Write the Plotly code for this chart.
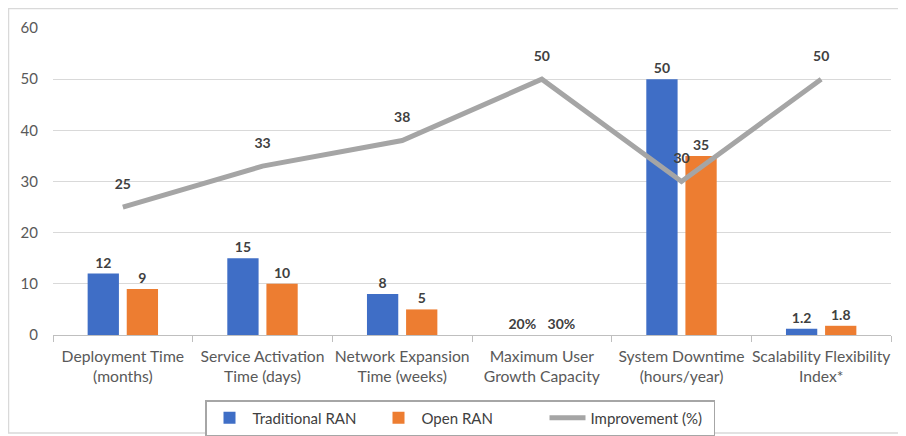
import plotly.graph_objects as go

categories = ["Deployment Time<br>(months)", "Service Activation<br>Time (days)",
              "Network Expansion<br>Time (weeks)", "Maximum User<br>Growth Capacity",
              "System Downtime<br>(hours/year)", "Scalability Flexibility<br>Index*"]
traditional = [12, 15, 8, 0, 50, 1.2]
traditional_text = ["12", "15", "8", "20%", "50", "1.2"]
open_ran = [9, 10, 5, 0, 35, 1.8]
open_ran_text = ["9", "10", "5", "30%", "35", "1.8"]
improvement = [25, 33, 38, 50, 30, 50]

FONT = "Lato"
LABEL = dict(family=FONT, size=14, color="#404040", weight="bold")

fig = go.Figure()
fig.add_trace(go.Bar(
    x=categories, y=traditional, name="Traditional RAN",
    marker=dict(color="#3F6EC6", line=dict(width=0)),
    text=traditional_text, textposition="outside", textfont=LABEL,
    cliponaxis=False,
))
fig.add_trace(go.Bar(
    x=categories, y=open_ran, name="Open RAN",
    marker=dict(color="#ED7D31", line=dict(width=0)),
    text=open_ran_text, textposition="outside", textfont=LABEL,
    cliponaxis=False,
))
fig.add_trace(go.Scatter(
    x=categories, y=improvement, name="Improvement (%)",
    mode="lines+markers+text",
    line=dict(color="#A5A5A5", width=5),
    marker=dict(size=22, color="rgba(0,0,0,0)"),
    text=[str(v) for v in improvement], textposition="top center",
    textfont=LABEL, cliponaxis=False,
))

# the page body has an 8px margin, so the figure is drawn 8px in from the window corner
OFF = 8
W, H = 906 - OFF, 436 - OFF
L, R = 53 - OFF, 15
T = 28 - OFF
B = H - (335 - OFF)
pw, ph = W - L - R, H - T - B


def px_x(x):
    return (x - OFF - L) / pw


def px_y(y):
    return (H - B - (y - OFF)) / ph


# chart area border
fig.add_shape(type="rect", xref="paper", yref="paper",
              x0=px_x(8.5), x1=px_x(904), y0=px_y(433), y1=px_y(8.5),
              line=dict(color="#D9D9D9", width=1.5), layer="below")

fig.update_layout(
    width=W, height=H,
    margin=dict(l=L, r=R, t=T, b=B, autoexpand=False),
    plot_bgcolor="white", paper_bgcolor="white",
    barmode="group", bargap=0.44, bargroupgap=0.2,
    font=dict(family=FONT, size=15, color="#595959"),
    showlegend=True,
    legend=dict(orientation="h", x=px_x(460), xanchor="center",
                y=px_y(400), yanchor="top",
                bordercolor="#A6A6A6", borderwidth=1.5,
                font=dict(family=FONT, size=15, color="#404040"),
                itemwidth=36, entrywidth=118, traceorder="normal"),
)
fig.update_yaxes(range=[0, 60], dtick=10, showgrid=True, gridcolor="#D9D9D9",
                 gridwidth=1, zeroline=False, showline=False, automargin=False,
                 tickfont=dict(family=FONT, size=15, color="#595959"), ticklabelstandoff=14)
fig.update_xaxes(showline=True, linecolor="#BFBFBF", linewidth=1, automargin=False,
                 tickangle=0, ticks="outside", tickson="boundaries", ticklen=6,
                 tickcolor="#BFBFBF", ticklabelstandoff=7,
                 tickfont=dict(family=FONT, size=15.7, color="#595959"))

fig.write_html("out.html")
